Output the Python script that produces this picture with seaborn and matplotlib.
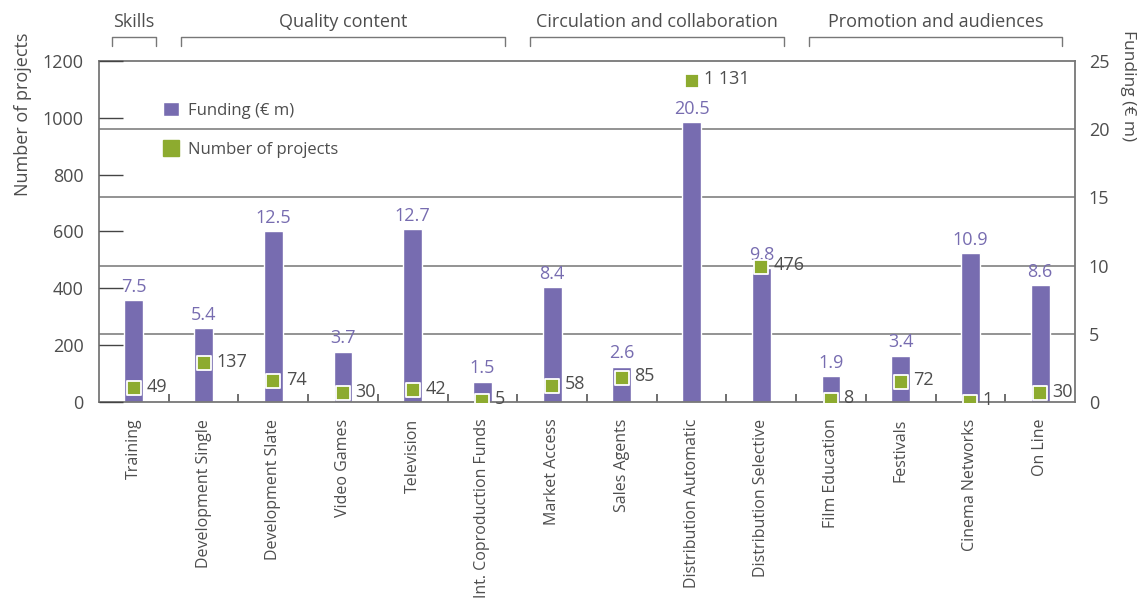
import numpy as np
import pandas as pd
import seaborn as sns
import matplotlib.pyplot as plt
import matplotlib.transforms as mtransforms
from matplotlib.patches import Patch
from matplotlib.lines import Line2D

categories = ["Training", "Development Single", "Development Slate", "Video Games",
              "Television", "Int. Coproduction Funds", "Market Access", "Sales Agents",
              "Distribution Automatic", "Distribution Selective", "Film Education",
              "Festivals", "Cinema Networks", "On Line"]
funding = [7.5, 5.4, 12.5, 3.7, 12.7, 1.5, 8.4, 2.6, 20.5, 9.8, 1.9, 3.4, 10.9, 8.6]
projects = [49, 137, 74, 30, 42, 5, 58, 85, 1131, 476, 8, 72, 1, 30]
project_labels = ["49", "137", "74", "30", "42", "5", "58", "85", "1 131", "476", "8", "72", "1", "30"]
groups = ["Skills", "Quality content", "Circulation and collaboration", "Promotion and audiences"]
group_first = [0, 1, 6, 10]
group_last = [0, 5, 9, 13]
left_ticks = [0, 200, 400, 600, 800, 1000, 1200]
right_ticks = [0, 5, 10, 15, 20, 25]

PURPLE = "#776cb0"
GREEN = "#8dab2f"
TXT = "#4d4d4d"
SP = "#777777"

sns.set_theme(style="white")
plt.rcParams["font.family"] = ["Open Sans", "DejaVu Sans"]

df = pd.DataFrame({"category": categories, "funding": funding, "projects": projects})

fig = plt.figure(figsize=(11.42, 5.99), dpi=100)
ax = fig.add_axes([0.0867, 0.3289, 0.8546, 0.5693])
sns.barplot(data=df, x="category", y="funding", color=PURPLE, saturation=1,
            width=0.27, ax=ax, zorder=2)
ax.set_xlim(-0.5, 13.5)
ax.set_ylim(0, 25)
for v in right_ticks[1:-1]:
    ax.axhline(v, color="#8a8a8a", lw=1.3, zorder=1)

ax2 = ax.twinx()
sns.stripplot(data=df, x="category", y="projects", jitter=False, marker="s", size=10,
              color=GREEN, edgecolor="white", linewidth=1.3, ax=ax2, zorder=5)
ax2.set_ylim(0, 1200)
ax2.set_xlim(-0.5, 13.5)

# right axis: funding
ax.yaxis.tick_right()
ax.yaxis.set_label_position("right")
ax.set_yticks(right_ticks)
ax.tick_params(axis="y", length=0, pad=10, labelsize=13, labelcolor=TXT)
ax.set_ylabel("Funding (€ m)", rotation=270, fontsize=12.5, color=TXT, va="center")
ax.yaxis.set_label_coords(1.054, 0.927)

# left axis: projects
ax2.yaxis.tick_left()
ax2.yaxis.set_label_position("left")
ax2.set_yticks(left_ticks)
ax2.tick_params(axis="y", direction="in", length=17, width=1, color="#444444",
                pad=11, labelsize=13, labelcolor=TXT, left=True)
ax2.set_ylabel("Number of projects", fontsize=13, color=TXT)
ax2.yaxis.set_label_coords(-0.0686, 0.845)
for s in ax2.spines.values():
    s.set_visible(False)

# x axis
ax.set_xlabel("")
ax.set_xticks(range(len(categories)))
ax.set_xticklabels(categories, rotation=90, fontsize=11.5, color=TXT)
ax.set_xticks(np.arange(0.5, 13.0, 1.0), minor=True)
ax.tick_params(axis="x", which="major", length=0, pad=12)
ax.tick_params(axis="x", which="minor", direction="in", length=6, width=1.2,
               color="#555555", bottom=True)
for s in ax.spines.values():
    s.set_visible(True)
    s.set_color(SP)
    s.set_linewidth(1.3)

# value labels
for i, f in enumerate(funding):
    ax.annotate(f"{f:.1f}", (i, f), xytext=(0, 3), textcoords="offset points",
                ha="center", va="bottom", fontsize=13, color=PURPLE)
for i, (p, lab) in enumerate(zip(projects, project_labels)):
    ax2.annotate(lab, (i, p), xytext=(9, 1), textcoords="offset points",
                 ha="left", va="center", fontsize=13, color=TXT, zorder=6)

# group headers
tr = mtransforms.blended_transform_factory(ax.transData, ax.transAxes)
for g, a, b in zip(groups, group_first, group_last):
    ax.plot([a - 0.32, a - 0.32, b + 0.32, b + 0.32], [1.044, 1.07, 1.07, 1.044],
            transform=tr, clip_on=False, color=SP, lw=1)
    ax.text((a + b) / 2, 1.114, g, transform=tr, ha="center", va="center",
            fontsize=13, color=TXT)

handles = [Patch(facecolor=PURPLE, label="Funding (€ m)"),
           Line2D([], [], marker="s", ls="", color=GREEN, markersize=11,
                  label="Number of projects")]
leg = ax2.legend(handles=handles, loc="upper left", bbox_to_anchor=(0.05, 0.925),
                 frameon=False, labelspacing=1.35, handlelength=1.0, handleheight=1.0,
                 handletextpad=0.5, fontsize=12)
for t in leg.get_texts():
    t.set_color(TXT)

fig.savefig("out.png", dpi=100)
